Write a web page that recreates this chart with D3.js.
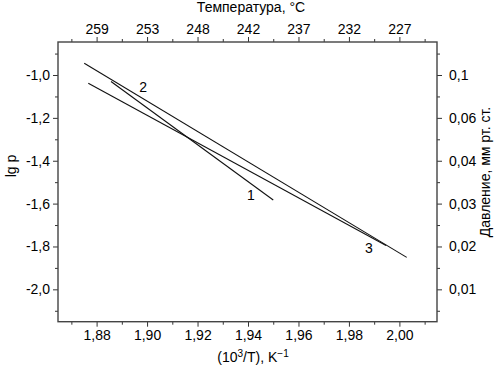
<!DOCTYPE html>
<html>
<head>
<meta charset="utf-8">
<script src="https://cdn.jsdelivr.net/npm/d3@7"></script>
<style>
  body { margin: 0; background: #fff; }
  svg { display: block; }
  text { font-family: "Liberation Sans", Arial, sans-serif; fill: #000; }
</style>
</head>
<body>
<svg id="chart" width="504" height="368"></svg>
<script>
// ticks
var xMajor = [1.88, 1.90, 1.92, 1.94, 1.96, 1.98, 2.00];
var xMinor = [1.87, 1.89, 1.91, 1.93, 1.95, 1.97, 1.99, 2.01];
var yMajor = [-1.0, -1.2, -1.4, -1.6, -1.8, -2.0];
var yMinor = [-0.9, -1.1, -1.3, -1.5, -1.7, -1.9, -2.1];
var tempLabels = ["259", "253", "248", "242", "237", "232", "227"];
var pressLabels = ["0,1", "0,06", "0,04", "0,03", "0,02", "0,01"];

// lines (10^3/T, lg p)
var line1 = [[1.8857, -1.0303], [1.9500, -1.5833]];
var line2 = [[1.8751, -0.945], [2.0029, -1.851]];
var line3 = [[1.8767, -1.0387], [1.9947, -1.7956]];
var lineNames = ["1", "2", "3"];
var labelX = [1.9411, 1.8984, 1.9879];
var labelY = [-1.5614, -1.0574, -1.8063];

var svg = d3.select("#chart");
var L = 58, R = 437, T = 42, B = 321.7;

var x = d3.scaleLinear().domain([1.8647, 2.0149]).range([L, R]);
var y = d3.scaleLinear().domain([-2.151, -0.846]).range([B, T]);

var comma = function(d, n) { return d.toFixed(n).replace(".", ","); };

function addAxis(axis, tr) {
  var g = svg.append("g").attr("transform", tr).call(axis);
  g.select(".domain").remove();
  g.selectAll("line").attr("stroke", "#333");
  g.selectAll("text").style("font-size", "14px").attr("fill", "#000");
  return g;
}

// bottom
addAxis(d3.axisBottom(x).tickValues(xMinor).tickSize(3).tickSizeOuter(0).tickFormat(""), "translate(0," + B + ")");
addAxis(d3.axisBottom(x).tickValues(xMajor).tickSize(5).tickSizeOuter(0).tickPadding(3)
  .tickFormat(function(d) { return comma(d, 2); }), "translate(0," + B + ")");
// top
addAxis(d3.axisTop(x).tickValues(xMinor).tickSize(3).tickSizeOuter(0).tickFormat(""), "translate(0," + T + ")");
addAxis(d3.axisTop(x).tickValues(xMajor).tickSize(5).tickSizeOuter(0).tickPadding(3)
  .tickFormat(function(d, i) { return tempLabels[i]; }), "translate(0," + T + ")");
// left
addAxis(d3.axisLeft(y).tickValues(yMinor).tickSize(3).tickSizeOuter(0).tickFormat(""), "translate(" + L + ",0)");
addAxis(d3.axisLeft(y).tickValues(yMajor).tickSize(5).tickSizeOuter(0).tickPadding(3)
  .tickFormat(function(d) { return comma(d, 1); }), "translate(" + L + ",0)");
// right
addAxis(d3.axisRight(y).tickValues(yMinor).tickSize(3).tickSizeOuter(0).tickFormat(""), "translate(" + R + ",0)");
addAxis(d3.axisRight(y).tickValues(yMajor).tickSize(5).tickSizeOuter(0).tickPadding(7)
  .tickFormat(function(d, i) { return pressLabels[i]; }), "translate(" + R + ",0)");

// frame
svg.append("rect")
  .attr("x", L).attr("y", T)
  .attr("width", R - L).attr("height", B - T)
  .attr("fill", "none").attr("stroke", "#444").attr("stroke-width", 1.4);

// lines
var line = d3.line().x(function(d) { return x(d[0]); }).y(function(d) { return y(d[1]); });
[line1, line2, line3].forEach(function(dat) {
  svg.append("path").datum(dat)
    .attr("d", line)
    .attr("fill", "none")
    .attr("stroke", "#111")
    .attr("stroke-width", 1.1);
});

lineNames.forEach(function(n, i) {
  svg.append("text")
    .attr("x", x(labelX[i])).attr("y", y(labelY[i]))
    .attr("dy", "0.36em")
    .attr("text-anchor", "middle")
    .style("font-size", "14px")
    .text(n);
});

// titles
svg.append("text").attr("x", 251).attr("y", 12)
  .attr("text-anchor", "middle").style("font-size", "14px")
  .text("Температура, °C");

var xt = svg.append("text").attr("x", 253).attr("y", 362)
  .attr("text-anchor", "middle").style("font-size", "14px");
xt.append("tspan").text("(10");
xt.append("tspan").attr("dy", -5).style("font-size", "10px").text("3");
xt.append("tspan").attr("dy", 5).text("/T), K");
xt.append("tspan").attr("dy", -5).style("font-size", "10px").text("−1");

svg.append("text")
  .attr("transform", "translate(16,166) rotate(-90)")
  .attr("text-anchor", "middle").style("font-size", "14px")
  .text("lg p");

svg.append("text")
  .attr("transform", "translate(490,172) rotate(-90)")
  .attr("text-anchor", "middle").style("font-size", "14px")
  .text("Давление, мм рт. ст.");
</script>
</body>
</html>
